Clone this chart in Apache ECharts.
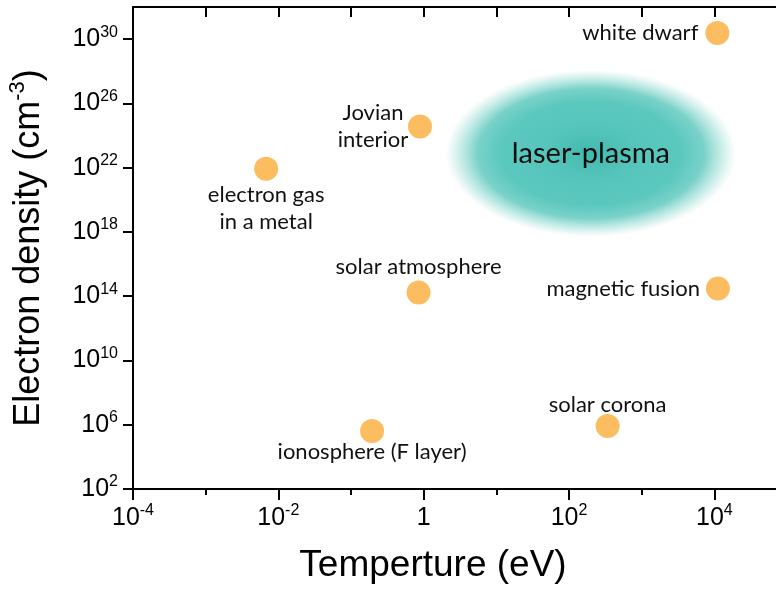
<!DOCTYPE html>
<html>
<head>
<meta charset="utf-8">
<script src="https://cdn.jsdelivr.net/npm/echarts@6/dist/echarts.min.js"></script>
<style>
  html, body { margin: 0; padding: 0; background: #fff; }
  #chart { width: 776px; height: 589px; }
</style>
</head>
<body>
<div id="chart"></div>
<script>
// Plasma regimes: temperature (eV) vs electron density (cm^-3)
const regimeNames = ['white dwarf', 'Jovian interior', 'electron gas in a metal', 'solar atmosphere',
                     'magnetic fusion', 'solar corona', 'ionosphere (F layer)'];
const regimeLabels = ['white dwarf', 'Jovian\ninterior', 'electron gas\nin a metal', 'solar atmosphere',
                      'magnetic fusion', 'solar corona', 'ionosphere (F layer)'];
const temperatureEV = [1.1e4, 0.89, 6.8e-3, 0.85, 1.12e4, 340, 0.195];
const densityCm3   = [2.4e30, 3.6e24, 8.5e21, 1.7e14, 3.0e14, 8.3e5, 4.1e5];

// laser-plasma domain (extent in temperature and density)
const laserName = 'laser-plasma';
const laserTempRange = [2, 2e4];
const laserDensRange = [5e17, 1.2e28];

// axis decades (exponents of ten)
const xTickExps  = [-4, -3, -2, -1, 0, 1, 2, 3, 4];
const xLabelExps = [-4, -2, 0, 2, 4];
const yLabelExps = [2, 6, 10, 14, 18, 22, 26, 30];

const lg = Math.log10;

const AXIS_FONT = 'Liberation Sans, Arial, sans-serif';
const LABEL_FONT = 'Lato, sans-serif';

const powRich = {
  b: { fontFamily: AXIS_FONT, fontSize: 25, color: '#000', lineHeight: 30 },
  s: { fontFamily: AXIS_FONT, fontSize: 16, color: '#000', lineHeight: 16, verticalAlign: 'top' }
};
const powFormatter = v => (Math.round(v) === 0 ? '{b|1}' : '{b|10}{s|' + Math.round(v) + '}');

const axisLine = { show: true, onZero: false, lineStyle: { color: '#000', width: 2 } };

// label placement for each regime
const labelPlacement = {
  'white dwarf':             { position: 'left',   distance: 7 },
  'Jovian interior':         { position: 'left',   distance: 35, align: 'center' },
  'electron gas in a metal': { position: 'bottom', distance: 1 },
  'solar atmosphere':        { position: 'top',    distance: 0 },
  'magnetic fusion':         { position: 'left',   distance: 6 },
  'solar corona':            { position: 'top',    distance: -4 },
  'ionosphere (F layer)':    { position: 'bottom', distance: -5 }
};

const scatterData = regimeNames.map((name, i) => ({
  name: name,
  value: [lg(temperatureEV[i]), lg(densityCm3[i])],
  label: Object.assign({
    show: true,
    formatter: regimeLabels[i],
    fontFamily: LABEL_FONT,
    fontSize: 22,
    lineHeight: 27,
    color: '#111'
  }, labelPlacement[name])
}));

const laserData = [[
  (lg(laserTempRange[0]) + lg(laserTempRange[1])) / 2,
  (lg(laserDensRange[0]) + lg(laserDensRange[1])) / 2,
  (lg(laserTempRange[1]) - lg(laserTempRange[0])) / 2,
  (lg(laserDensRange[1]) - lg(laserDensRange[0])) / 2
]];

const chart = echarts.init(document.getElementById('chart'), null, { renderer: 'canvas' });

chart.setOption({
  backgroundColor: '#fff',
  animation: false,
  grid: { left: 133, top: 7, width: 654, height: 482, outerBoundsMode: 'none', containLabel: false },
  xAxis: [
    {
      type: 'value', min: -4, max: 5, position: 'bottom',
      axisLine: axisLine,
      axisTick: { show: true, customValues: xTickExps, length: 6, lineStyle: { color: '#000', width: 2 } },
      axisLabel: { customValues: xLabelExps, formatter: powFormatter, rich: powRich, margin: 14 },
      splitLine: { show: false },
      name: 'Temperture (eV)',
      nameLocation: 'middle',
      nameGap: 58,
      nameTextStyle: { fontFamily: AXIS_FONT, fontSize: 37, color: '#000', padding: [0, 54, 0, 0] }
    },
    {
      type: 'value', min: -4, max: 5, position: 'bottom',
      axisLine: { show: false },
      axisTick: { show: true, customValues: xLabelExps, length: 11, lineStyle: { color: '#000', width: 2 } },
      axisLabel: { show: false },
      splitLine: { show: false }
    },
    {
      type: 'value', min: -4, max: 5, position: 'top',
      axisLine: axisLine,
      axisTick: { show: true, inside: true, customValues: xTickExps, length: 10, lineStyle: { color: '#000', width: 2 } },
      axisLabel: { show: false },
      splitLine: { show: false }
    }
  ],
  yAxis: [
    {
      type: 'value', min: 2, max: 32, position: 'left',
      axisLine: axisLine,
      axisTick: { show: true, customValues: yLabelExps, length: 10, lineStyle: { color: '#000', width: 2 } },
      axisLabel: { customValues: yLabelExps, formatter: powFormatter, rich: powRich, margin: 15 },
      splitLine: { show: false },
      name: 'Electron density (cm{sup|-3})',
      nameLocation: 'middle',
      nameGap: 82,
      nameTextStyle: {
        fontFamily: AXIS_FONT, fontSize: 36, color: '#000', lineHeight: 44,
        rich: { sup: { fontFamily: AXIS_FONT, fontSize: 22, color: '#000', lineHeight: 26, verticalAlign: 'top' } }
      }
    }
  ],
  series: [
    {
      name: laserName,
      type: 'custom',
      xAxisIndex: 0,
      yAxisIndex: 0,
      data: laserData,
      renderItem: function (params, api) {
        const c = api.coord([api.value(0), api.value(1)]);
        const sz = api.size([api.value(2), api.value(3)]);
        const rx = sz[0], ry = sz[1];
        return {
          type: 'group',
          children: [
            {
              type: 'circle',
              x: c[0], y: c[1],
              scaleY: ry / rx,
              shape: { cx: 0, cy: 0, r: rx },
              style: {
                fill: new echarts.graphic.RadialGradient(0.5, 0.5, 0.5, [
                  { offset: 0,    color: '#42b9ae' },
                  { offset: 0.3,  color: '#55c5bb' },
                  { offset: 0.62, color: '#5bc8be' },
                  { offset: 0.78, color: 'rgba(98,202,192,0.85)' },
                  { offset: 0.9,  color: 'rgba(120,210,200,0.4)' },
                  { offset: 1,    color: 'rgba(140,215,205,0)' }
                ])
              }
            },
            {
              type: 'text',
              x: c[0], y: c[1],
              style: {
                text: laserName,
                fontFamily: LABEL_FONT,
                fontSize: 29,
                fill: '#0d0d0d',
                align: 'center',
                verticalAlign: 'middle'
              }
            }
          ]
        };
      },
      z: 1
    },
    {
      name: 'regimes',
      type: 'scatter',
      xAxisIndex: 0,
      yAxisIndex: 0,
      symbol: 'circle',
      symbolSize: 24,
      itemStyle: { color: '#fcbd60', opacity: 1 },
      data: scatterData,
      z: 3
    }
  ]
});
</script>
</body>
</html>
